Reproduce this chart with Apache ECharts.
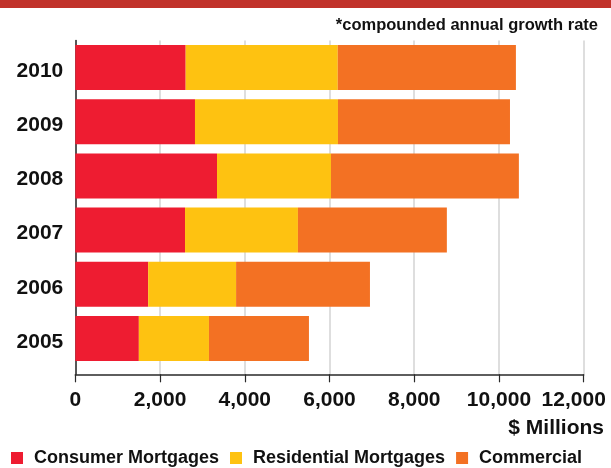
<!DOCTYPE html>
<html>
<head>
<meta charset="utf-8">
<script src="https://cdn.jsdelivr.net/npm/echarts@6/dist/echarts.min.js"></script>
<style>
  html, body { margin: 0; padding: 0; background: #fff; }
  #chart { width: 611px; height: 468px; }
</style>
</head>
<body>
<div id="chart"></div>
<script>
// Mortgage portfolio by type, $ millions (bottom to top)
const years = ['2005', '2006', '2007', '2008', '2009', '2010'];
const consumerMortgages = [1500, 1720, 2590, 3345, 2825, 2605];
const residentialMortgages = [1655, 2075, 2665, 2690, 3375, 3590];
const commercial = [2360, 3160, 3515, 4435, 4060, 4205];
const xTicks = [0, 2000, 4000, 6000, 8000, 10000, 12000];

const FONT = "'Liberation Sans', Arial, sans-serif";
const COLORS = ['#EE1C31', '#FEC211', '#F37123'];

const chart = echarts.init(document.getElementById('chart'), null, { renderer: 'canvas' });

const fmt = v => v.toLocaleString('en-US');
const xMax = xTicks[xTicks.length - 1];

function barSeries(name, data, color) {
  return {
    name: name,
    type: 'bar',
    stack: 'total',
    xAxisIndex: 0,
    yAxisIndex: 0,
    data: data,
    barCategoryGap: '17%',
    itemStyle: { color: color },
    emphasis: { disabled: true }
  };
}

chart.setOption({
  animation: false,
  textStyle: { fontFamily: FONT },
  grid: [
    { left: 75.3, right: 27.3, top: 40.4, height: 325.2, containLabel: false, outerBoundsMode: 'none' },
    { left: 75.3, right: 27.3, top: 40.4, height: 333.9, containLabel: false, outerBoundsMode: 'none' }
  ],
  xAxis: [
    { gridIndex: 0, type: 'value', min: 0, max: xMax, show: false },
    {
      gridIndex: 1, type: 'value', min: 0, max: xMax, interval: 2000,
      axisLine: { show: true, lineStyle: { color: '#2a2a2a', width: 1.5 } },
      axisTick: { show: true, length: 8, lineStyle: { color: '#2a2a2a', width: 1.2 } },
      splitLine: { show: true, lineStyle: { color: '#d3d3d3', width: 1.5 } },
      axisLabel: {
        margin: 15,
        color: '#111',
        fontFamily: FONT,
        fontWeight: 'bold',
        fontSize: 21,
        lineHeight: 21,
        formatter: v => v === xMax ? '{e|' + fmt(v) + '}' : fmt(v),
        rich: {
          e: { padding: [0, 20, 0, 0], fontFamily: FONT, fontWeight: 'bold', fontSize: 21, color: '#111' }
        }
      }
    }
  ],
  yAxis: [
    {
      gridIndex: 0, type: 'category', data: years,
      axisLine: { show: false }, axisTick: { show: false }, splitLine: { show: false },
      axisLabel: {
        margin: 12,
        formatter: v => '{y|' + v + '}',
        rich: {
          y: { padding: [7, 0, 0, 0], fontFamily: FONT, fontWeight: 'bold', fontSize: 21, color: '#111' }
        }
      }
    },
    {
      gridIndex: 1, type: 'value', min: 0, max: 1,
      axisLine: { show: true, lineStyle: { color: '#2a2a2a', width: 1.5 } },
      axisTick: { show: false }, axisLabel: { show: false }, splitLine: { show: false }
    }
  ],
  legend: {
    left: 11,
    top: 449,
    itemWidth: 12,
    itemHeight: 12,
    itemGap: 11,
    icon: 'rect',
    selectedMode: false,
    padding: 0,
    textStyle: {
      fontFamily: FONT,
      fontWeight: 'bold',
      fontSize: 18,
      lineHeight: 17,
      color: '#111',
      padding: [0, 0, 0, 6]
    },
    data: ['Consumer Mortgages', 'Residential Mortgages', 'Commercial']
  },
  graphic: [
    { type: 'rect', left: 0, top: 0, shape: { width: 611, height: 8 }, style: { fill: '#C1322A' }, silent: true },
    {
      type: 'text', right: 13, top: 16.5,
      style: { text: '*compounded annual growth rate', font: "bold 16.5px " + FONT, fill: '#111' }
    },
    {
      type: 'text', right: 7, top: 418,
      style: { text: '$ Millions', font: "bold 21px " + FONT, fill: '#111' }
    }
  ],
  series: [
    barSeries('Consumer Mortgages', consumerMortgages, COLORS[0]),
    barSeries('Residential Mortgages', residentialMortgages, COLORS[1]),
    barSeries('Commercial', commercial, COLORS[2])
  ]
});
</script>
</body>
</html>
